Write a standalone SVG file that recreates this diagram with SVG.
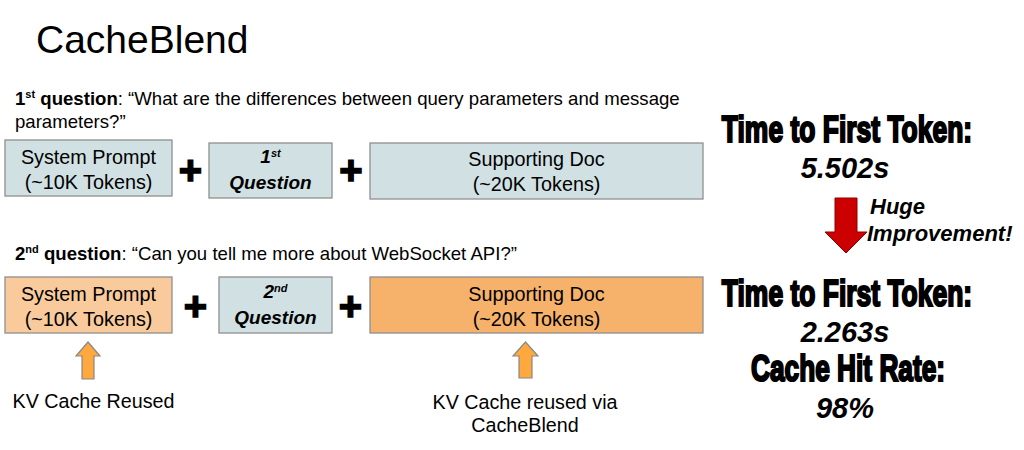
<svg xmlns="http://www.w3.org/2000/svg" width="1024" height="450" viewBox="0 0 1024 450">
<style>
  text { font-family: "Liberation Sans", Arial, sans-serif; fill: #000; }
  .title { font-size: 39px; }
  .q { font-size: 18.6px; }
  .qb { font-weight: bold; }
  .box { stroke: #8f8f8f; stroke-width: 1.3; }
  .blue { fill: #d0e0e3; }
  .lorange { fill: #f9cb9c; }
  .orange { fill: #f6b26b; }
  .bt { font-size: 19.8px; text-anchor: middle; }
  .bq { font-size: 19px; font-weight: bold; font-style: italic; text-anchor: middle; }
  .plus { font-size: 40px; font-weight: bold; text-anchor: middle; stroke: #000; stroke-width: 1.5; }
  .up { fill: #ffa83e; stroke: #888; stroke-width: 1.2; }
  .lbl { font-size: 19.7px; text-anchor: middle; }
  .big { font-size: 37px; font-weight: bold; text-anchor: middle; stroke: #000; stroke-width: 2.2; }
  .num { font-size: 29px; font-weight: bold; font-style: italic; text-anchor: middle; }
  .huge { font-size: 22px; font-weight: bold; font-style: italic; }
</style>

<text class="title" x="36" y="53">CacheBlend</text>

<text class="q" x="15" y="105"><tspan class="qb">1<tspan font-size="11" dy="-7">st</tspan><tspan dy="7"> question</tspan></tspan>: “What are the differences between query parameters and message</text>
<text class="q" x="15" y="128">parameters?”</text>

<text class="q" x="15" y="260"><tspan class="qb">2<tspan font-size="11" dy="-7">nd</tspan><tspan dy="7"> question</tspan></tspan>: “Can you tell me more about WebSocket API?”</text>

<g id="row1-system">
  <rect class="box blue" x="5" y="140" width="167" height="56"/>
  <text class="bt" x="88.5" y="164">System Prompt</text>
  <text class="bt" x="88.5" y="189">(~10K Tokens)</text>
</g>
<g id="row1-plus1"><text class="plus" x="190.5" y="184">+</text></g>
<g id="row1-question">
  <rect class="box blue" x="209" y="143" width="123" height="55"/>
  <text class="bq" x="270.5" y="163">1<tspan font-size="11" dy="-6">st</tspan></text>
  <text class="bq" x="270.5" y="189">Question</text>
</g>
<g id="row1-plus2"><text class="plus" x="351" y="184">+</text></g>
<g id="row1-doc">
  <rect class="box blue" x="370" y="143" width="333" height="56"/>
  <text class="bt" x="536.5" y="166">Supporting Doc</text>
  <text class="bt" x="536.5" y="191">(~20K Tokens)</text>
</g>

<g id="row2-system">
  <rect class="box lorange" x="5" y="277" width="167" height="56"/>
  <text class="bt" x="88.5" y="301">System Prompt</text>
  <text class="bt" x="88.5" y="326">(~10K Tokens)</text>
</g>
<g id="row2-plus1"><text class="plus" x="195.5" y="320">+</text></g>
<g id="row2-question">
  <rect class="box blue" x="219" y="277" width="113" height="56"/>
  <text class="bq" x="275.5" y="298">2<tspan font-size="11" dy="-6">nd</tspan></text>
  <text class="bq" x="275.5" y="324">Question</text>
</g>
<g id="row2-plus2"><text class="plus" x="350.5" y="320">+</text></g>
<g id="row2-doc">
  <rect class="box orange" x="370" y="277" width="333" height="56"/>
  <text class="bt" x="536.5" y="301">Supporting Doc</text>
  <text class="bt" x="536.5" y="326">(~20K Tokens)</text>
</g>

<g id="connectors">
  <path class="up" d="M88,342 L100,356 L94,356 L94,379 L82,379 L82,356 L76,356 Z"/>
  <path class="up" d="M525.5,342 L538,356 L532,356 L532,378 L519,378 L519,356 L513,356 Z"/>
  <path d="M835,198 L857,198 L857,232 L867,232 L846,253 L825,232 L835,232 Z" fill="#cc0000" stroke="#8b0000" stroke-width="1"/>
</g>

<g id="label-reused">
  <text class="lbl" x="93.5" y="408">KV Cache Reused</text>
</g>
<g id="label-cacheblend">
  <text class="lbl" x="525" y="409">KV Cache reused via</text>
  <text class="lbl" x="525" y="432">CacheBlend</text>
</g>

<g id="ttft-before">
  <text class="big" transform="translate(847,142) scale(0.715,1)">Time to First Token:</text>
  <text class="num" x="845" y="178">5.502s</text>
</g>
<g id="improvement">
  <text class="huge" x="870" y="214">Huge</text>
  <text class="huge" x="867" y="241">Improvement!</text>
</g>
<g id="ttft-after">
  <text class="big" transform="translate(847,306) scale(0.715,1)">Time to First Token:</text>
  <text class="num" x="845" y="342">2.263s</text>
  <text class="big" transform="translate(848,381) scale(0.71,1)">Cache Hit Rate:</text>
  <text class="num" x="845" y="418">98%</text>
</g>
</svg>
